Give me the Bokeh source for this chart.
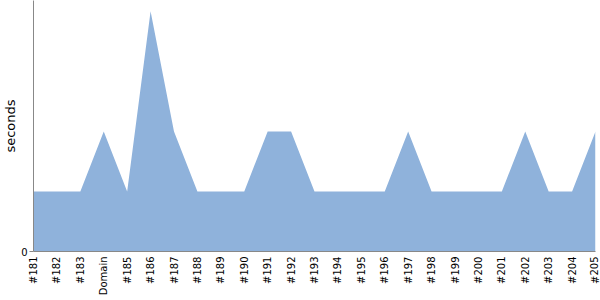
from bokeh.plotting import figure
from bokeh.models import FixedTicker, Range1d, ColumnDataSource
from bokeh.embed import file_html
from bokeh.resources import INLINE

categories = ["#181", "#182", "#183", "Domain", "#185", "#186", "#187", "#188",
              "#189", "#190", "#191", "#192", "#193", "#194", "#195", "#196",
              "#197", "#198", "#199", "#200", "#201", "#202", "#203", "#204", "#205"]
seconds = [1, 1, 1, 2, 1, 4, 2, 1, 1, 1, 2, 2, 1, 1, 1, 1, 2, 1, 1, 1, 1, 2, 1, 1, 2]
y_ticks = [0]

FONT = "'DejaVu Sans'"

xs = list(range(len(categories)))
src = ColumnDataSource(dict(x=xs, y=seconds, y0=[0] * len(xs)))

p = figure(width=600, height=300, output_backend="svg", toolbar_location=None,
           x_range=Range1d(0, len(categories) - 1), y_range=Range1d(0, 4.18),
           min_border_left=33, min_border_right=5, min_border_top=0, min_border_bottom=49)
p.outline_line_color = None
p.grid.visible = False
p.background_fill_color = "white"
p.border_fill_color = "white"

p.varea(x="x", y1="y0", y2="y", source=src, fill_color="#8fb2db", fill_alpha=1.0)

p.xaxis.ticker = FixedTicker(ticks=xs)
p.xaxis.major_label_overrides = {i: c for i, c in enumerate(categories)}
p.xaxis.major_label_orientation = 1.5708
p.xaxis.major_tick_line_color = None
p.xaxis.major_tick_out = 0
p.xaxis.major_tick_in = 0
p.xaxis.minor_tick_line_color = None
p.xaxis.minor_tick_out = 0
p.xaxis.axis_line_color = "#888888"
p.xaxis.major_label_text_font = FONT
p.xaxis.major_label_text_font_size = "10px"
p.xaxis.major_label_text_color = "black"
p.xaxis.major_label_standoff = 5

p.yaxis.ticker = FixedTicker(ticks=y_ticks)
p.yaxis.minor_tick_line_color = None
p.yaxis.minor_tick_out = 0
p.yaxis.major_tick_in = 0
p.yaxis.major_tick_out = 4
p.yaxis.major_tick_line_color = "#888888"
p.yaxis.axis_line_color = "#888888"
p.yaxis.major_label_text_font = FONT
p.yaxis.major_label_text_font_size = "10px"
p.yaxis.major_label_text_color = "black"
p.yaxis.major_label_standoff = 2
p.yaxis.axis_label = "seconds"
p.yaxis.axis_label_text_font = FONT
p.yaxis.axis_label_text_font_size = "13px"
p.yaxis.axis_label_text_font_style = "normal"
p.yaxis.axis_label_text_color = "black"
p.yaxis.axis_label_standoff = 0

open("out.html", "w").write(file_html(p, INLINE))
